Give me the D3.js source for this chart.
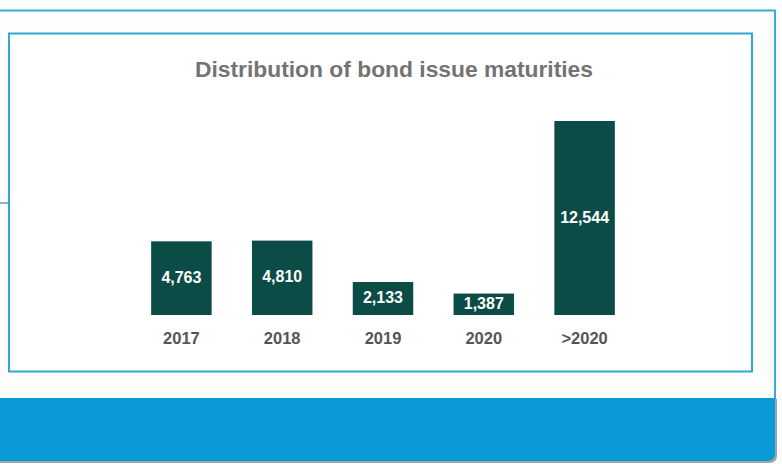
<!DOCTYPE html>
<html>
<head>
<meta charset="utf-8">
<script src="https://cdn.jsdelivr.net/npm/d3@7"></script>
<style>
  html, body { margin: 0; padding: 0; background: #fff; }
  svg { display: block; font-family: "Liberation Sans", Arial, sans-serif; }
</style>
</head>
<body>
<div id="chart"></div>
<script>
// values
const categories = ["2017", "2018", "2019", "2020", ">2020"];
const values = [4763, 4810, 2133, 1387, 12544];
const valueLabels = ["4,763", "4,810", "2,133", "1,387", "12,544"];

const W = 782, H = 464;
const svg = d3.select("#chart").append("svg")
    .attr("width", W)
    .attr("height", H);

// page panel: outer frame, blue footer band
svg.append("rect").attr("x", 0).attr("y", 0).attr("width", W).attr("height", H).attr("fill", "#fdfdfd");
svg.append("path")
    .attr("d", "M0,10.5 H775 V400")
    .attr("fill", "none")
    .attr("stroke", "#3aaad6")
    .attr("stroke-width", 2);
svg.append("path")
    .attr("d", "M0,203 H9")
    .attr("stroke", "#5b9fc9")
    .attr("stroke-width", 1.5);
svg.append("path")
    .attr("d", "M0,399 H777 V455 Q777,463 769,463 H0 Z")
    .attr("fill", "#9aa6ad");
svg.append("path")
    .attr("d", "M0,398 H775 V453 Q775,461 767,461 H0 Z")
    .attr("fill", "#0a9ad8");

// inner chart frame
svg.append("rect")
    .attr("x", 9).attr("y", 33.5)
    .attr("width", 743).attr("height", 338)
    .attr("fill", "#fff")
    .attr("stroke", "#33a6d2")
    .attr("stroke-width", 2);

svg.append("text")
    .attr("x", 394).attr("y", 77)
    .attr("text-anchor", "middle")
    .attr("fill", "#737373")
    .attr("font-size", 22)
    .attr("font-weight", "bold")
    .attr("textLength", 398)
    .attr("lengthAdjust", "spacingAndGlyphs")
    .text("Distribution of bond issue maturities");

const x = d3.scaleBand()
    .domain(categories)
    .range([131, 635])
    .paddingInner(0.4)
    .paddingOuter(0.2);

const y = d3.scaleLinear()
    .domain([0, 12544])
    .range([315, 121]);

const g = svg.append("g");

g.selectAll("rect.bar")
    .data(values)
    .join("rect")
    .attr("class", "bar")
    .attr("x", (d, i) => x(categories[i]))
    .attr("y", d => y(d))
    .attr("width", x.bandwidth())
    .attr("height", d => y(0) - y(d))
    .attr("fill", "#0b4c46");

g.selectAll("text.val")
    .data(values)
    .join("text")
    .attr("class", "val")
    .attr("x", (d, i) => x(categories[i]) + x.bandwidth() / 2)
    .attr("y", d => (y(d) + y(0)) / 2 - 1)
    .attr("dy", "0.35em")
    .attr("text-anchor", "middle")
    .attr("fill", "#fff")
    .attr("font-size", 16)
    .attr("font-weight", "bold")
    .text((d, i) => valueLabels[i]);

// category axis without line or ticks
const xAxis = svg.append("g")
    .attr("transform", "translate(0,332)")
    .call(d3.axisBottom(x).tickSize(0).tickPadding(0));
xAxis.select(".domain").remove();
xAxis.selectAll("text")
    .attr("dy", "0.71em")
    .attr("fill", "#555")
    .attr("font-size", 16.5)
    .attr("font-weight", "bold")
    .attr("font-family", "Liberation Sans, Arial, sans-serif");
</script>
</body>
</html>
